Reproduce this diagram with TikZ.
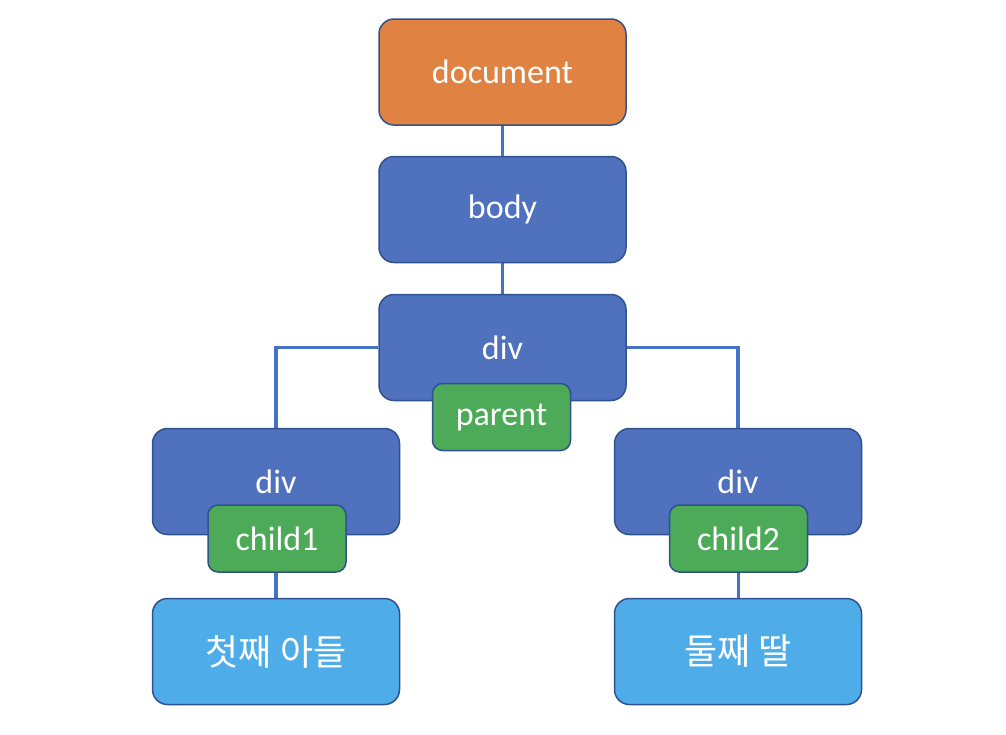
\documentclass[tikz,border=0pt]{standalone}
\usepackage{fontspec}
\usetikzlibrary{backgrounds}
\setmainfont{Carlito}
\newfontfamily\krfont{Noto Sans CJK KR}
\definecolor{orangefill}{HTML}{E08342}
\definecolor{bluefill}{HTML}{4F71BE}
\definecolor{greenfill}{HTML}{4CAA58}
\definecolor{lightfill}{HTML}{4EADE8}
\definecolor{edgecol}{HTML}{2F528F}
\definecolor{linecol}{HTML}{4472C4}
\tikzset{
  bigbox/.style={draw=edgecol, line width=1.5pt, rounded corners=15pt, minimum width=247pt, minimum height=106pt, inner sep=0pt, text=white, font=\fontsize{34}{40}\selectfont},
  smallbox/.style={draw=edgecol, line width=1.5pt, rounded corners=10pt, fill=greenfill, minimum width=138pt, minimum height=67pt, inner sep=0pt, text=white, font=\fontsize{34}{40}\selectfont},
  conn/.style={draw=linecol, line width=3.2pt}
}
\begin{document}
\begin{tikzpicture}[x=1pt,y=-1pt]
\useasboundingbox (0,0) rectangle (1006,734);
% nodes
\node[bigbox, fill=orangefill] (doc) at (502.5,72) {document};
\node[bigbox, fill=bluefill] (body) at (502.5,209.5) {body};
\node[bigbox, fill=bluefill] (div) at (502.5,347.5) {div};
\node[bigbox, fill=bluefill] (ldiv) at (276,481.5) {div};
\node[bigbox, fill=bluefill] (rdiv) at (738,481.5) {div};
\node[smallbox] (parent) at (501.5,417) {parent};
\node[smallbox] (child1) at (277,538.5) {child1};
\node[smallbox] (child2) at (738.5,538.5) {child2};
\node[bigbox, fill=lightfill, font=\krfont\fontsize{36}{42}\selectfont] (son) at (276,651.5) {첫째 아들};
\node[bigbox, fill=lightfill, font=\krfont\fontsize{36}{42}\selectfont] (daughter) at (738,651.5) {둘째 딸};
% connectors
\begin{scope}[on background layer]
\draw[conn] (doc.south) -- (body.north);
\draw[conn] (body.south) -- (div.north);
\draw[conn] (div.west) -| (ldiv.north);
\draw[conn] (div.east) -| (rdiv.north);
\draw[conn] (child1.south -| son.north) -- (son.north);
\draw[conn] (child2.south) -- (child2.south |- daughter.north);
\end{scope}
\end{tikzpicture}
\end{document}
